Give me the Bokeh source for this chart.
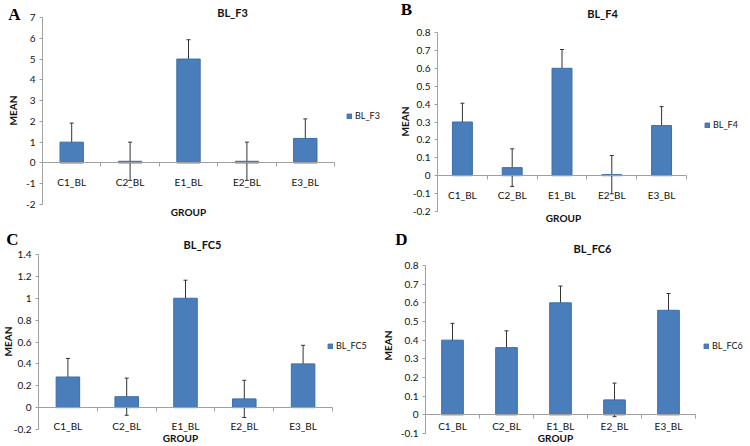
import math
from bokeh.plotting import figure
from bokeh.models import (Range1d, FixedTicker, Whisker, TeeHead, ColumnDataSource,
                          Label, Legend, LegendItem, LinearAxis)
from bokeh.layouts import column, row
from bokeh.embed import file_html
from bokeh.resources import INLINE

GROUPS = ["C1_BL", "C2_BL", "E1_BL", "E2_BL", "E3_BL"]

F3_MEAN = [1.0, 0.08, 5.0, 0.08, 1.18]
F3_ERR = [0.92, 0.92, 0.93, 0.92, 0.94]
F3_TICKS = [-2, -1, 0, 1, 2, 3, 4, 5, 6, 7]
F3_TICK_LABELS = ["-2", "-1", "0", "1", "2", "3", "4", "5", "6", "7"]

F4_MEAN = [0.30, 0.045, 0.60, 0.006, 0.28]
F4_ERR = [0.105, 0.105, 0.105, 0.107, 0.106]
F4_TICKS = [-0.2, -0.1, 0, 0.1, 0.2, 0.3, 0.4, 0.5, 0.6, 0.7, 0.8]
F4_TICK_LABELS = ["-0.2", "-0.1", "0", "0.1", "0.2", "0.3", "0.4", "0.5", "0.6", "0.7", "0.8"]

FC5_MEAN = [0.28, 0.10, 1.00, 0.08, 0.40]
FC5_ERR = [0.17, 0.17, 0.165, 0.17, 0.17]
FC5_TICKS = [-0.2, 0, 0.2, 0.4, 0.6, 0.8, 1.0, 1.2, 1.4]
FC5_TICK_LABELS = ["-0.2", "0", "0.2", "0.4", "0.6", "0.8", "1", "1.2", "1.4"]

FC6_MEAN = [0.40, 0.36, 0.60, 0.08, 0.56]
FC6_ERR = [0.09, 0.09, 0.09, 0.09, 0.09]
FC6_TICKS = [-0.1, 0, 0.1, 0.2, 0.3, 0.4, 0.5, 0.6, 0.7, 0.8]
FC6_TICK_LABELS = ["-0.1", "0", "0.1", "0.2", "0.3", "0.4", "0.5", "0.6", "0.7", "0.8"]

FONT = "Lato"
BAR_FILL = "#4A7EBB"
BAR_LINE = "#3C6CA6"
AXIS_COLOR = "#A0A0A0"
TEXT_COLOR = "#111111"


def panel(letter, name, means, errs, ticks, tick_labels, lay):
    n = len(GROUPS)
    W, H = lay["W"], lay["H"]
    L, dw = lay["L"], lay["dw"]
    yt, yb = lay["yt"], lay["yb"]
    t0, t1 = ticks[0], ticks[-1]
    s = (t1 - t0) / (yb - yt)
    p = figure(width=W, height=H, output_backend="svg", toolbar_location=None,
               title=None,
               x_range=Range1d(-L * n / dw, (W - L) * n / dw),
               y_range=Range1d(t0 - (H - yb) * s, t1 + yt * s),
               min_border=0, min_border_left=0, min_border_right=0,
               min_border_top=0, min_border_bottom=0,
               x_axis_location=None, y_axis_location=None)
    p.outline_line_color = None
    p.xgrid.visible = False
    p.ygrid.visible = False
    p.background_fill_color = "white"
    p.border_fill_color = "white"

    xs = [i + 0.5 for i in range(n)]
    src = ColumnDataSource(dict(x=xs, group=GROUPS, mean=means,
                                upper=[m + e for m, e in zip(means, errs)],
                                lower=[m - e for m, e in zip(means, errs)]))

    # category axis drawn along y = 0
    xax = LinearAxis(fixed_location=0, bounds=(0, n))
    xax.ticker = FixedTicker(ticks=xs, minor_ticks=list(range(n + 1)))
    xax.major_label_overrides = {x: g for x, g in zip(xs, GROUPS)}
    xax.major_tick_line_color = None
    xax.major_tick_out = 0
    xax.major_tick_in = 0
    xax.minor_tick_line_color = AXIS_COLOR
    xax.minor_tick_out = 4
    xax.minor_tick_in = 0
    xax.axis_line_color = AXIS_COLOR
    xax.major_label_standoff = lay["xstand"]
    xax.major_label_text_font = FONT
    xax.major_label_text_font_size = "10px"
    xax.major_label_text_color = TEXT_COLOR
    p.add_layout(xax, "below")

    # value axis drawn along x = 0
    yax = LinearAxis(fixed_location=0, bounds=(t0, t1))
    yax.ticker = FixedTicker(ticks=ticks, minor_ticks=[])
    yax.major_label_overrides = {t: l for t, l in zip(ticks, tick_labels)}
    yax.major_tick_out = 3
    yax.major_tick_in = 0
    yax.major_tick_line_color = AXIS_COLOR
    yax.minor_tick_line_color = None
    yax.axis_line_color = AXIS_COLOR
    yax.major_label_standoff = 4
    yax.major_label_text_font = FONT
    yax.major_label_text_font_size = "10px"
    yax.major_label_text_color = TEXT_COLOR
    p.add_layout(yax, "left")

    bars = p.vbar(x="x", top="mean", bottom=0, width=0.4, source=src,
                  fill_color=BAR_FILL, line_color=BAR_LINE, line_width=1)

    w = Whisker(base="x", upper="upper", lower="lower", source=src,
                line_color="#333333", line_width=1,
                upper_head=TeeHead(size=4, line_color="#333333", line_width=1),
                lower_head=TeeHead(size=4, line_color="#333333", line_width=1))
    p.add_layout(w)

    leg = Legend(items=[LegendItem(label=name, renderers=[bars])],
                 location=lay["legend"], padding=0, margin=0, spacing=0,
                 border_line_color=None, background_fill_alpha=0,
                 glyph_width=6, glyph_height=6, label_height=10, label_width=10,
                 label_standoff=3, label_text_font=FONT,
                 label_text_font_size="9px", label_text_color=TEXT_COLOR)
    p.add_layout(leg, "center")

    def lab(text, xy, size, angle=0, font=FONT):
        p.add_layout(Label(x=xy[0], y=xy[1], x_units="screen", y_units="screen",
                           text=text, text_font=font, text_font_size=size,
                           text_font_style="bold",
                           text_color="black" if font != FONT else TEXT_COLOR,
                           text_align="center", text_baseline="middle", angle=angle))

    lab(letter, lay["letter"], "17px", font="Liberation Serif")
    lab(name, lay["title"], "11px")
    lab("MEAN", lay["mean"], "10px", angle=math.pi / 2)
    lab("GROUP", lay["group"], "10px")
    return p


LAY_A = dict(W=380, H=223, L=42, dw=292, yt=17, yb=204, legend=(346, 102), xstand=9,
             letter=(14, 209), title=(232, 211), mean=(12, 113), group=(188, 12))
LAY_B = dict(W=370, H=223, L=57, dw=249, yt=32, yb=211, legend=(324, 93), xstand=9,
             letter=(26, 214), title=(222, 210), mean=(24, 102), group=(183, 6))
LAY_C = dict(W=380, H=223, L=38, dw=294, yt=31, yb=206, legend=(327, 95), xstand=8,
             letter=(12, 207), title=(202, 202), mean=(7, 105), group=(180, 9))
LAY_D = dict(W=370, H=223, L=45, dw=270, yt=42, yb=210, legend=(323, 95), xstand=1,
             letter=(21, 207), title=(212, 198), mean=(7, 101), group=(175, 9))

pA = panel("A", "BL_F3", F3_MEAN, F3_ERR, F3_TICKS, F3_TICK_LABELS, LAY_A)
pB = panel("B", "BL_F4", F4_MEAN, F4_ERR, F4_TICKS, F4_TICK_LABELS, LAY_B)
pC = panel("C", "BL_FC5", FC5_MEAN, FC5_ERR, FC5_TICKS, FC5_TICK_LABELS, LAY_C)
pD = panel("D", "BL_FC6", FC6_MEAN, FC6_ERR, FC6_TICKS, FC6_TICK_LABELS, LAY_D)

layout = column(row(pA, pB), row(pC, pD))
open("out.html", "w").write(file_html(layout, INLINE))
